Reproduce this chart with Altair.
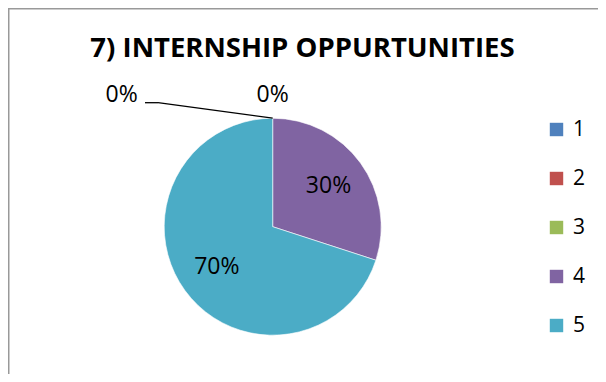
import altair as alt
import pandas as pd

categories = ["1", "2", "3", "4", "5"]
values = [0, 0, 0, 30, 70]
colors = ["#4F81BD", "#C0504D", "#9BBB59", "#8064A2", "#4BACC6"]
title_text = "7) INTERNSHIP OPPURTUNITIES"

df = pd.DataFrame({"cat": categories, "val": values, "idx": list(range(len(categories)))})
df["label"] = [f"{v}%" for v in values]

CX, CY, R = 264.7, 218.7, 108.5
FONT = "Open Sans"

color_scale = alt.Scale(domain=categories, range=colors)

base = alt.Chart(df).encode(
    theta=alt.Theta("val:Q", stack=True),
    order=alt.Order("idx:Q"),
)

pie = base.mark_arc(outerRadius=R, stroke="white", strokeWidth=0.6).encode(
    color=alt.Color(
        "cat:N",
        scale=color_scale,
        legend=alt.Legend(
            title=None,
            orient="none",
            legendX=538,
            legendY=111,
            symbolType="square",
            symbolSize=180,
            symbolStrokeWidth=0,
            labelFontSize=21,
            labelFont=FONT,
            labelColor="#000000",
            labelOffset=6,
            rowPadding=27,
            padding=0,
        ),
    ),
    x=alt.value(CX),
    y=alt.value(CY),
)

inner = base.mark_text(radius=69, fontSize=23, font=FONT, color="#000000").encode(
    text="label:N",
    x=alt.value(CX),
    y=alt.value(CY),
).transform_filter(alt.datum.val > 0)

top_zero = base.mark_text(radius=132, fontSize=23, font=FONT, color="#000000").encode(
    text="label:N",
    x=alt.value(CX),
    y=alt.value(CY),
).transform_filter(alt.datum.cat == "3")

ann = pd.DataFrame({"label": [df.loc[0, "label"]]})
left_zero = alt.Chart(ann).mark_text(fontSize=23, font=FONT, color="#000000").encode(
    text="label:N", x=alt.value(113.7), y=alt.value(87)
)
leader1 = alt.Chart(ann).mark_rule(color="#000000", strokeWidth=1.3).encode(
    x=alt.value(137), x2=alt.value(150), y=alt.value(94.7), y2=alt.value(94.7)
)
leader2 = alt.Chart(ann).mark_rule(color="#000000", strokeWidth=1.3).encode(
    x=alt.value(150), x2=alt.value(CX), y=alt.value(94.7), y2=alt.value(CY - R)
)

title = alt.Chart(pd.DataFrame({"t": [title_text]})).mark_text(
    fontSize=27.5, font=FONT, fontWeight="bold", color="#000000", baseline="middle"
).encode(text="t:N", x=alt.value(294.5), y=alt.value(41))

border_left = alt.Chart(ann).mark_rule(color="#999999", strokeWidth=2).encode(
    x=alt.value(0.5), y=alt.value(0), y2=alt.value(400)
)
border_top = alt.Chart(ann).mark_rule(color="#999999", strokeWidth=2).encode(
    x=alt.value(0), x2=alt.value(700), y=alt.value(0.5)
)

chart = alt.layer(
    pie, inner, top_zero, left_zero, leader1, leader2, title, border_left, border_top
).properties(
    width=590, height=366, autosize=alt.AutoSizeParams(type="none"), padding=0
).configure_view(stroke=None).configure(background="white")

chart.save("out.html", embed_options={"renderer": "svg", "actions": False})
